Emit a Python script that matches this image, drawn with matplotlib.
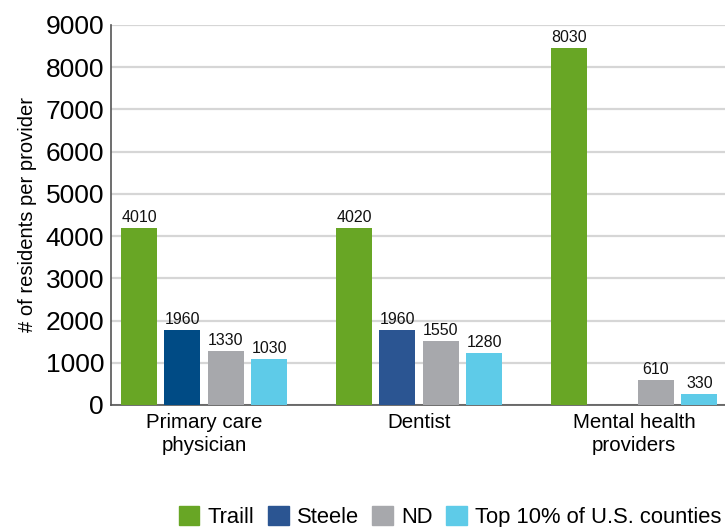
import numpy as np
import matplotlib
matplotlib.use('Agg')
import matplotlib.pyplot as plt
from matplotlib.patches import Patch

plt.rcParams['font.family'] = ['Liberation Sans', 'DejaVu Sans']

categories = ['Primary care\nphysician', 'Dentist', 'Mental health\nproviders']
series = ['Traill', 'Steele', 'ND', 'Top 10% of U.S. counties']

# bar heights as drawn in the picture
traill_h = [4200, 4200, 8450]
steele_h = [1770, 1770, np.nan]
nd_h = [1290, 1520, 600]
top10_h = [1100, 1240, 270]

# value labels printed above the bars
traill_lbl = ['4010', '4020', '8030']
steele_lbl = ['1960', '1960', '']
nd_lbl = ['1330', '1550', '610']
top10_lbl = ['1030', '1280', '330']

colors = ['#68a625', '#2b5592', '#a7a8ac', '#5ecbe8']
steele_bar_colors = ['#004b85', '#2b5592', '#2b5592']

fig = plt.figure(figsize=(7.25, 5.27), dpi=100)
ax = fig.add_axes([0.1531, 0.2315, 0.847, 0.7211])

x = np.arange(len(categories))
pitch = 0.202
width = 0.167
heights = [traill_h, steele_h, nd_h, top10_h]
labels = [traill_lbl, steele_lbl, nd_lbl, top10_lbl]

for i, (h, lbl) in enumerate(zip(heights, labels)):
    xs = x + (i - 1.5) * pitch
    c = steele_bar_colors if i == 1 else colors[i]
    bars = ax.bar(xs, h, width=width, color=c, zorder=3)
    for b, t in zip(bars, lbl):
        if t:
            ax.annotate(t, (b.get_x() + b.get_width() / 2, b.get_height()),
                        xytext=(0, 2), textcoords='offset points',
                        ha='center', va='bottom', fontsize=11.5, color='#111111')

ax.set_xlim(-0.433, 2.423)
ax.set_ylim(0, 9000)
ax.set_yticks(range(0, 9001, 1000))
ax.tick_params(axis='y', length=0, labelsize=19, pad=5)
ax.tick_params(axis='x', length=0, labelsize=14.8, pad=6)
ax.set_xticks(x)
ax.set_xticklabels(categories, linespacing=1.25)
ax.yaxis.grid(True, color='#d6d6d6', linewidth=1.6, zorder=0)
ax.set_axisbelow(True)
for s in ['top', 'right']:
    ax.spines[s].set_visible(False)
ax.spines['left'].set_color('#555555')
ax.spines['bottom'].set_color('#555555')
ax.spines['left'].set_linewidth(1.2)
ax.spines['bottom'].set_linewidth(1.2)
ax.set_ylabel('# of residents per provider', fontsize=14.5, labelpad=6)

handles = [Patch(color=c) for c in colors]
fig.legend(handles, series, loc='lower right', bbox_to_anchor=(1.022, -0.04), ncol=4,
           frameon=False, fontsize=15.8, handlelength=0.95, handleheight=0.95,
           handletextpad=0.36, columnspacing=0.62)

fig.savefig('out.png', dpi=100)
